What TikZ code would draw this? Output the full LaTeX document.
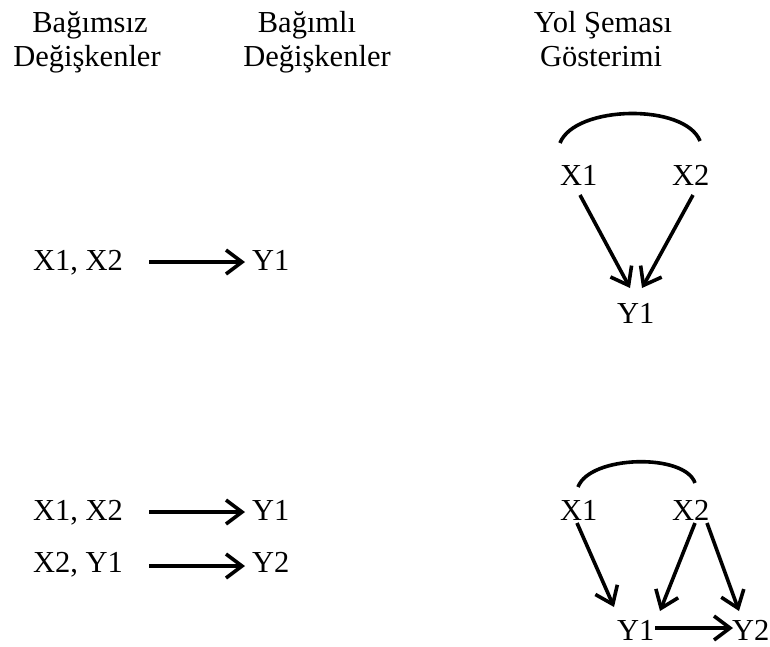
\documentclass[tikz,border=0pt]{standalone}
\usepackage{fontspec}
\setmainfont{Liberation Serif}
\usetikzlibrary{arrows.meta,calc}
\begin{document}
\begin{tikzpicture}[x={(1pt,0)},y={(0,-1pt)},
  lbl/.style={inner sep=0pt,outer sep=0pt,font=\fontsize{30.5}{34}\selectfont,anchor=base},
  lblw/.style={lbl,anchor=base west},
  conn/.style={line width=3.6pt,-{Straight Barb[length=16pt,width=24pt]}},
  link/.style={line width=3.6pt}]
\useasboundingbox (0,0) rectangle (770,646);
% headers
\node[lbl] (h1a) at (90,32) {Bağımsız};
\node[lbl] (h1b) at (87,66) {Değişkenler};
\node[lbl] (h2a) at (307,32) {Bağımlı};
\node[lbl] (h2b) at (317,66) {Değişkenler};
\node[lbl] (h3a) at (603,32) {Yol Şeması};
\node[lbl] (h3b) at (601,66) {Gösterimi};
% list rows
\node[lblw] (r1a) at (33,270) {X1, X2};
\node[lblw] (r1b) at (252,270) {Y1};
\draw[conn] ($(r1a.base west)+(116,-8)$) -- ($(r1b.base west)+(-7,-8)$);
\node[lblw] (r2a) at (33,520) {X1, X2};
\node[lblw] (r2b) at (252,520) {Y1};
\draw[conn] ($(r2a.base west)+(116,-8)$) -- ($(r2b.base west)+(-7,-8)$);
\node[lblw] (r3a) at (33,572) {X2, Y1};
\node[lblw] (r3b) at (252,572) {Y2};
\draw[conn] ($(r3a.base west)+(116,-6)$) -- ($(r3b.base west)+(-7,-6)$);
% path diagram 1
\node[lblw] (pa1) at (560,185) {X1};
\node[lblw] (pa2) at (672,185) {X2};
\node[lblw] (pay) at (617,323) {Y1};
\draw[link] ($(pa1.base west)+(0,-42)$) .. controls +(15,-38) and +(-15,-38) .. ($(pa2.base west)+(28,-44)$);
\draw[conn] ($(pa1.base west)+(20,10)$) -- ($(pay.base west)+(13,-35)$);
\draw[conn] ($(pa2.base west)+(21,10)$) -- ($(pay.base west)+(25,-35)$);
% path diagram 2
\node[lblw] (pb1) at (560,520) {X1};
\node[lblw] (pb2) at (672,520) {X2};
\node[lblw] (pby1) at (617,640) {Y1};
\node[lblw] (pby2) at (732,640) {Y2};
\draw[link] ($(pb1.base west)+(18,-33)$) .. controls +(12,-32) and +(-10,-30) .. ($(pb2.base west)+(23,-37)$);
\draw[conn] ($(pb1.base west)+(17,3)$) -- ($(pby1.base west)+(-3,-33)$);
\draw[conn] ($(pb2.base west)+(23,3)$) -- ($(pby1.base west)+(43,-29)$);
\draw[conn] ($(pb2.base west)+(35,3)$) -- ($(pby2.base west)+(7,-29)$);
\draw[conn] ($(pby1.base west)+(38,-12)$) -- ($(pby2.base west)+(1,-12)$);
\end{tikzpicture}
\end{document}
